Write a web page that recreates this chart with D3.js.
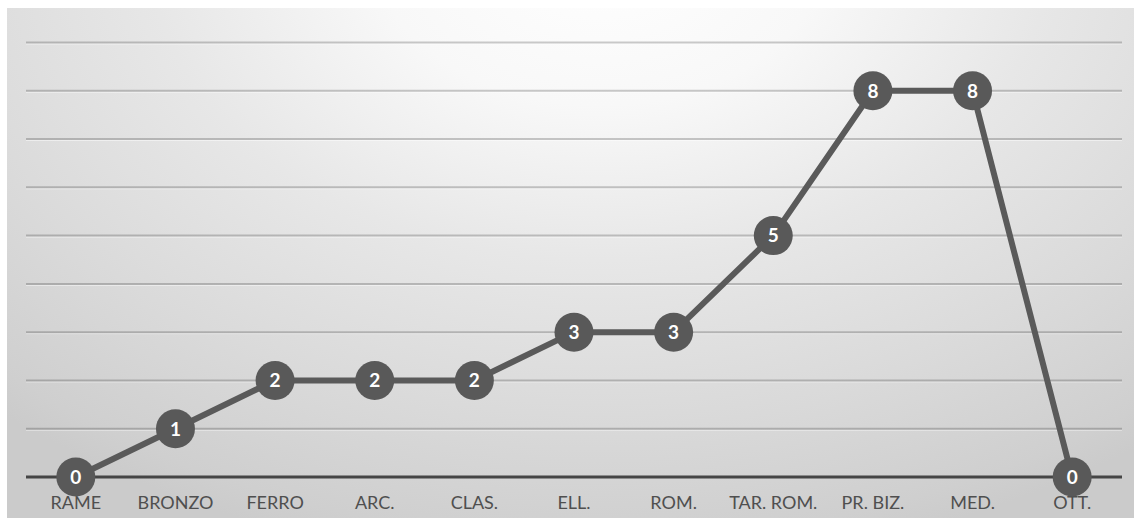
<!DOCTYPE html>
<html>
<head>
<meta charset="utf-8">
<script src="https://cdn.jsdelivr.net/npm/d3@7"></script>
<style>
  html, body { margin: 0; padding: 0; background: #ffffff; }
  svg { display: block; }
</style>
</head>
<body>
<svg id="chart" width="1134" height="522"></svg>
<script>
// Periods on the x axis and the count recorded for each
const categories = ["RAME", "BRONZO", "FERRO", "ARC.", "CLAS.", "ELL.", "ROM.", "TAR. ROM.", "PR. BIZ.", "MED.", "OTT."];
const values = [0, 1, 2, 2, 2, 3, 3, 5, 8, 8, 0];
const gridTicks = [1, 2, 3, 4, 5, 6, 7, 8, 9];

const panel = { x: 7, y: 8, w: 1127, h: 510 };
const plot = { left: 26, right: 1122, top: 42.5, bottom: 477 };

const svg = d3.select("#chart");
const defs = svg.append("defs");

// Soft elliptical backdrop: bright at the top centre, greyer toward the edges
const gcx = 600, gcy = -50, grx = 900, gry = 620;
const grad = defs.append("radialGradient")
  .attr("id", "bg")
  .attr("gradientUnits", "userSpaceOnUse")
  .attr("cx", gcx).attr("cy", gcy)
  .attr("r", grx)
  .attr("gradientTransform", `translate(${gcx},${gcy}) scale(1,${gry / grx}) translate(${-gcx},${-gcy})`);
[
  [0, "#ffffff"], [0.25, "#f8f8f8"], [0.5, "#e7e7e7"],
  [0.75, "#dadada"], [0.95, "#cfcfcf"], [1, "#cbcbcb"]
].forEach(([o, c]) => grad.append("stop").attr("offset", o).attr("stop-color", c));

svg.append("rect")
  .attr("x", panel.x).attr("y", panel.y)
  .attr("width", panel.w).attr("height", panel.h)
  .attr("fill", "url(#bg)");

const x = d3.scaleBand()
  .domain(categories)
  .range([plot.left, plot.right])
  .padding(0);

const y = d3.scaleLinear()
  .domain([0, 9])
  .range([plot.bottom, plot.top]);

const cx = d => x(d) + x.bandwidth() / 2;

// Embossed horizontal gridlines (translucent, so they darken with the backdrop)
const grid = svg.append("g");
grid.selectAll("line.hl")
  .data(gridTicks)
  .join("line")
  .attr("class", "hl")
  .attr("x1", plot.left).attr("x2", plot.right)
  .attr("y1", d => y(d) + 1.5).attr("y2", d => y(d) + 1.5)
  .attr("stroke", "#ffffff").attr("stroke-opacity", 0.5).attr("stroke-width", 1);
grid.selectAll("line.gl")
  .data(gridTicks)
  .join("line")
  .attr("class", "gl")
  .attr("x1", plot.left).attr("x2", plot.right)
  .attr("y1", d => y(d)).attr("y2", d => y(d))
  .attr("stroke", "#000000").attr("stroke-opacity", 0.2).attr("stroke-width", 2);

// Category axis along the zero line
const xAxis = d3.axisBottom(x).tickSize(0).tickPadding(19);
const axisG = svg.append("g")
  .attr("transform", `translate(0,${y(0)})`)
  .call(xAxis);
axisG.select(".domain")
  .attr("d", `M${plot.left},0H${plot.right}`)
  .attr("stroke", "#454545").attr("stroke-width", 3);
axisG.selectAll(".tick text")
  .attr("fill", "#4f4f4f")
  .attr("font-family", "Lato, 'Open Sans', sans-serif")
  .attr("font-size", 18);

// Series line
const line = d3.line()
  .x((d, i) => cx(categories[i]))
  .y(d => y(d));

svg.append("path")
  .datum(values)
  .attr("d", line)
  .attr("fill", "none")
  .attr("stroke", "#5a5a5a")
  .attr("stroke-width", 6)
  .attr("stroke-linejoin", "round");

// Markers with the value written inside
const pts = svg.append("g")
  .selectAll("g")
  .data(values.map((v, i) => ({ cat: categories[i], v })))
  .join("g")
  .attr("transform", d => `translate(${cx(d.cat)},${y(d.v)})`);

pts.append("circle")
  .attr("r", 19.5)
  .attr("fill", "#595959");

pts.append("text")
  .text(d => d.v)
  .attr("text-anchor", "middle")
  .attr("dy", "0.36em")
  .attr("fill", "#ffffff")
  .attr("font-family", "Lato, 'Open Sans', sans-serif")
  .attr("font-weight", "bold")
  .attr("font-size", 19);
</script>
</body>
</html>
